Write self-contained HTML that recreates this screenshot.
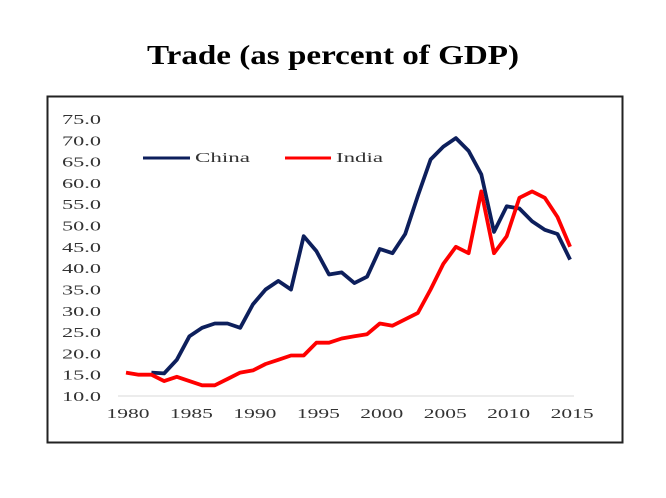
<!DOCTYPE html>
<html><head><meta charset="utf-8"><style>
html,body{margin:0;padding:0;background:#fff;}
svg{display:block;font-family:"Liberation Serif",serif;}
</style></head><body>
<svg id="s" width="666" height="498" viewBox="0 0 666 498">
<text x="333" y="64" text-anchor="middle" font-size="27" font-weight="bold" textLength="372" lengthAdjust="spacingAndGlyphs" fill="#000">Trade (as percent of GDP)</text>
<rect x="47.5" y="96.5" width="575" height="346" fill="#fff" stroke="#222" stroke-width="2"/>
<line x1="118" y1="396" x2="574" y2="396" stroke="#d9d9d9" stroke-width="1"/>
<g id="yl" font-size="14" fill="#333" text-anchor="end"></g>
<g id="xl" font-size="14" fill="#333" text-anchor="middle"></g>
<line x1="143" y1="158" x2="190" y2="158" stroke="#0d1f5c" stroke-width="3"/>
<text x="195" y="162" font-size="14" fill="#333" textLength="55" lengthAdjust="spacingAndGlyphs">China</text>
<line x1="285" y1="158" x2="331" y2="158" stroke="#ff0000" stroke-width="3"/>
<text x="336" y="162" font-size="14" fill="#333" textLength="47" lengthAdjust="spacingAndGlyphs">India</text>
<polyline id="ch" fill="none" stroke="#0d1f5c" stroke-width="3.8" stroke-linejoin="round"/>
<polyline id="in" fill="none" stroke="#ff0000" stroke-width="3.8" stroke-linejoin="round"/>
</svg>
<script>
function Y(v){return 396-(v-10)*4.262;}
function X(y){return 126+(y-1980)*12.69;}
var ns="http://www.w3.org/2000/svg";
var yl=document.getElementById('yl');
for(var v=10;v<=75;v+=5){var t=document.createElementNS(ns,'text');t.setAttribute('x',101);t.setAttribute('y',Y(v)+5);t.setAttribute('textLength',39);t.setAttribute('lengthAdjust','spacingAndGlyphs');t.textContent=v.toFixed(1);yl.appendChild(t);}
var xl=document.getElementById('xl');
for(var y=1980;y<=2015;y+=5){var t=document.createElementNS(ns,'text');t.setAttribute('x',X(y)+2);t.setAttribute('y',418);t.setAttribute('textLength',43);t.setAttribute('lengthAdjust','spacingAndGlyphs');t.textContent=y;xl.appendChild(t);}
var ch=[15.5,15.3,18.5,24,26,27,27,26,31.5,35,37,35,47.5,44,38.5,39,36.5,38,44.5,43.5,48,57,65.5,68.5,70.5,67.5,62,48.5,54.5,54,51,49,48,42];
var ind=[15.5,15,15,13.5,14.5,13.5,12.5,12.5,14,15.5,16,17.5,18.5,19.5,19.5,22.5,22.5,23.5,24,24.5,27,26.5,28,29.5,35,41,45,43.5,58,43.5,47.5,56.5,58,56.5,52,45];
function pts(a,s){return a.map(function(v,i){return X(s+i).toFixed(1)+','+Y(v).toFixed(1)}).join(' ');}
document.getElementById('ch').setAttribute('points',pts(ch,1982));
document.getElementById('in').setAttribute('points',pts(ind,1980));
</script>
</body></html>
